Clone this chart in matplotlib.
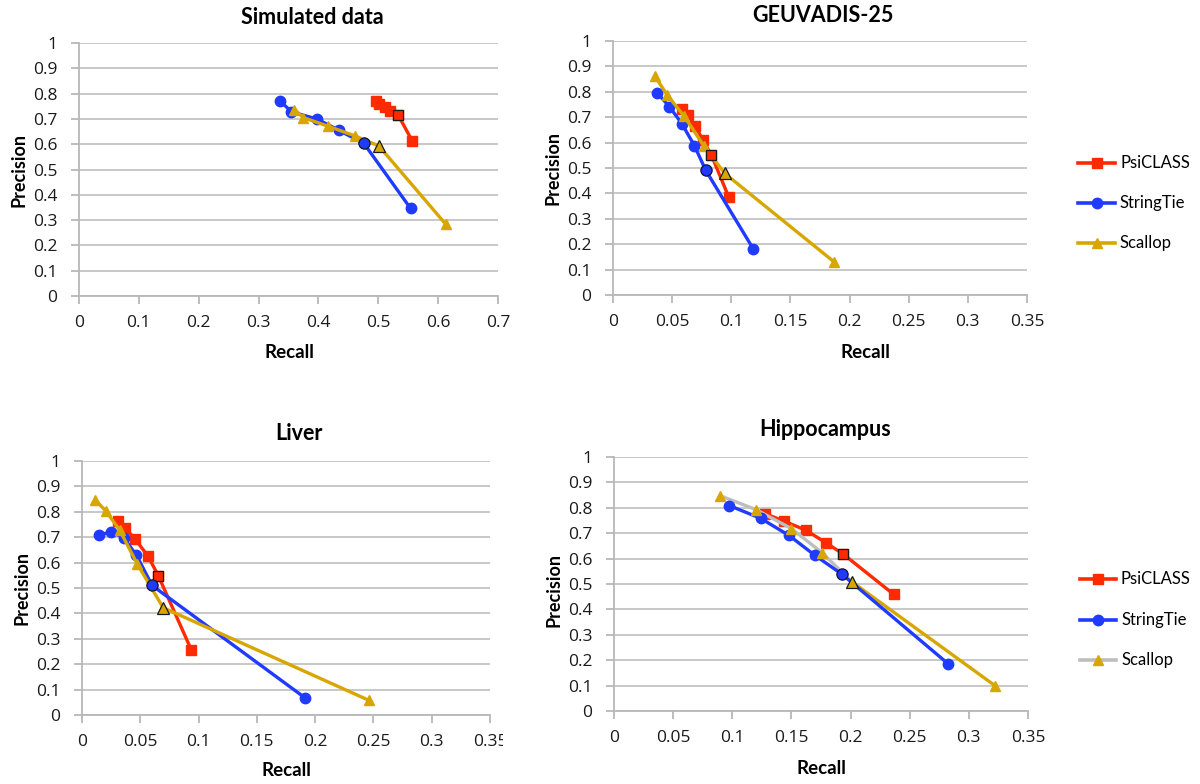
import matplotlib
matplotlib.use("Agg")
import matplotlib.pyplot as plt
from matplotlib.lines import Line2D
from matplotlib.transforms import Bbox

# ---------------- data ----------------
titles = ["Simulated data", "GEUVADIS-25", "Liver", "Hippocampus"]
series_names = ["PsiCLASS", "StringTie", "Scallop"]

# Simulated data
sim_psiclass_recall = [0.496, 0.502, 0.511, 0.519, 0.533, 0.557]
sim_psiclass_prec = [0.771, 0.758, 0.747, 0.732, 0.716, 0.612]
sim_stringtie_recall = [0.336, 0.355, 0.398, 0.434, 0.476, 0.554]
sim_stringtie_prec = [0.771, 0.728, 0.699, 0.655, 0.603, 0.346]
sim_scallop_recall = [0.360, 0.375, 0.416, 0.461, 0.501, 0.613]
sim_scallop_prec = [0.737, 0.705, 0.671, 0.633, 0.593, 0.283]

# GEUVADIS-25
geu_psiclass_recall = [0.0583, 0.0631, 0.0696, 0.0758, 0.0831, 0.0977]
geu_psiclass_prec = [0.732, 0.709, 0.666, 0.611, 0.552, 0.387]
geu_stringtie_recall = [0.0375, 0.0476, 0.0583, 0.0688, 0.0784, 0.1184]
geu_stringtie_prec = [0.795, 0.742, 0.674, 0.588, 0.491, 0.183]
geu_scallop_recall = [0.0355, 0.0457, 0.0603, 0.0767, 0.0944, 0.187]
geu_scallop_prec = [0.861, 0.788, 0.703, 0.588, 0.479, 0.130]

# Liver
liv_psiclass_recall = [0.0309, 0.0366, 0.0458, 0.0567, 0.0656, 0.0939]
liv_psiclass_prec = [0.765, 0.738, 0.691, 0.625, 0.547, 0.255]
liv_stringtie_recall = [0.0146, 0.0246, 0.0358, 0.0467, 0.0601, 0.1912]
liv_stringtie_prec = [0.707, 0.722, 0.698, 0.629, 0.510, 0.068]
liv_scallop_recall = [0.0115, 0.0203, 0.0323, 0.0475, 0.0695, 0.246]
liv_scallop_prec = [0.846, 0.804, 0.728, 0.594, 0.423, 0.058]

# Hippocampus
hip_psiclass_recall = [0.1276, 0.1436, 0.162, 0.179, 0.194, 0.2365]
hip_psiclass_prec = [0.777, 0.748, 0.712, 0.663, 0.617, 0.459]
hip_stringtie_recall = [0.0974, 0.1242, 0.148, 0.1698, 0.1926, 0.2827]
hip_stringtie_prec = [0.809, 0.758, 0.691, 0.613, 0.539, 0.185]
hip_scallop_recall = [0.090, 0.120, 0.150, 0.176, 0.201, 0.322]
hip_scallop_prec = [0.847, 0.793, 0.718, 0.623, 0.509, 0.100]

default_index = 4  # point drawn with a dark outline (default parameters)

x_max = [0.7, 0.35, 0.35, 0.35]
x_step = [0.1, 0.05, 0.05, 0.05]
x_ticklabels_a = ["0", "0.1", "0.2", "0.3", "0.4", "0.5", "0.6", "0.7"]
x_ticklabels_b = ["0", "0.05", "0.1", "0.15", "0.2", "0.25", "0.3", "0.35"]
y_ticks = [0, 0.1, 0.2, 0.3, 0.4, 0.5, 0.6, 0.7, 0.8, 0.9, 1.0]
y_ticklabels = ["0", "0.1", "0.2", "0.3", "0.4", "0.5", "0.6", "0.7", "0.8", "0.9", "1"]

panels = [
    (sim_psiclass_recall, sim_psiclass_prec, sim_stringtie_recall, sim_stringtie_prec,
     sim_scallop_recall, sim_scallop_prec),
    (geu_psiclass_recall, geu_psiclass_prec, geu_stringtie_recall, geu_stringtie_prec,
     geu_scallop_recall, geu_scallop_prec),
    (liv_psiclass_recall, liv_psiclass_prec, liv_stringtie_recall, liv_stringtie_prec,
     liv_scallop_recall, liv_scallop_prec),
    (hip_psiclass_recall, hip_psiclass_prec, hip_stringtie_recall, hip_stringtie_prec,
     hip_scallop_recall, hip_scallop_prec),
]

# ---------------- style ----------------
RED = "#FF2A00"
BLUE = "#1F3BFF"
GOLD = "#D8A600"
GRAY_LINE = "#BEBEBE"
GRID = "#C4C4C4"
AX_GRAY = "#B8B8B8"

W, H = 1200, 784
fig = plt.figure(figsize=(W / 100, H / 100), dpi=100)
fig.patch.set_facecolor("white")

TICK_FONT = "Open Sans"

# axes rectangles in pixel coordinates: left, top, right, bottom
rects_px = [
    (79, 43, 498, 296),
    (613, 41, 1027, 295),
    (82, 461, 490, 715),
    (614, 457, 1028, 711),
]
title_pos = [(312, 18), (823, 15), (299, 433), (825, 430)]
xlabel_pos = [(289, 353), (865, 353), (286, 771), (821, 768)]
ylabel_pos = [(19, 170), (553, 168), (22, 588), (554, 590)]


def px_rect(l, t, r, b):
    return [l / W, 1 - b / H, (r - l) / W, (b - t) / H]


markers = ["s", "o", "^"]
msizes = [7, 7.5, 7.5]
colors = [RED, BLUE, GOLD]

for i, (rect, data) in enumerate(zip(rects_px, panels)):
    ax = fig.add_axes(px_rect(*rect))
    ax.set_xlim(0, x_max[i])
    ax.set_ylim(0, 1)
    n = int(round(x_max[i] / x_step[i]))
    ax.set_xticks([k * x_step[i] for k in range(n + 1)])
    ax.set_xticklabels(x_ticklabels_a if i == 0 else x_ticklabels_b)
    ax.set_yticks(y_ticks)
    ax.set_yticklabels(y_ticklabels)
    for s in ["top", "right"]:
        ax.spines[s].set_visible(False)
    for s in ["left", "bottom"]:
        ax.spines[s].set_color(AX_GRAY)
        ax.spines[s].set_linewidth(1.3)
    ax.tick_params(axis="both", direction="out", length=6, width=1.3, color=AX_GRAY,
                   labelsize=12.5, labelcolor="#1a1a1a")
    ax.tick_params(axis="x", pad=8)
    ax.tick_params(axis="y", pad=9.5)
    for lab in ax.get_xticklabels() + ax.get_yticklabels():
        lab.set_fontfamily(TICK_FONT)
    ax.grid(axis="y", color=GRID, linewidth=1.3)
    ax.set_axisbelow(True)

    pr, pp, sr, sp, cr, cp = data
    xs = [pr, sr, cr]
    ys = [pp, sp, cp]
    for k in range(3):
        if i == 3 and k == 2:
            # Hippocampus Scallop: gray segment up to the default point, then gold
            ax.plot(xs[k][:default_index + 1], ys[k][:default_index + 1], color=GRAY_LINE,
                    lw=2.4, marker=None, zorder=3)
            ax.plot(xs[k][default_index:], ys[k][default_index:], color=GOLD,
                    lw=2.4, marker=None, zorder=3)
            ax.plot(xs[k], ys[k], ls="none", marker=markers[k], ms=msizes[k],
                    color=GOLD, mec=GOLD, zorder=3.1)
        else:
            ax.plot(xs[k], ys[k], color=colors[k], lw=2.4, marker=markers[k],
                    ms=msizes[k], mec=colors[k], zorder=3 + k * 0.1)
    for k in range(3):
        ax.plot([xs[k][default_index]], [ys[k][default_index]], ls="none",
                marker=markers[k], ms=msizes[k] + 0.5, color=colors[k],
                mec="#1a1a1a", mew=0.9, zorder=5)

    if i == 2:
        clip = Bbox.from_extents(0, 0, 503, H)
        for lab in ax.get_xticklabels():
            lab.set_clip_on(True)
            lab.set_clip_box(clip)

    tx, ty = title_pos[i]
    fig.text(tx / W, 1 - ty / H, titles[i], ha="center", va="center",
             fontsize=15.5, fontweight="bold", family="Lato")
    lx, ly = xlabel_pos[i]
    fig.text(lx / W, 1 - ly / H, "Recall", ha="center", va="center",
             fontsize=13.5, fontweight="bold", family="Lato")
    yx, yy = ylabel_pos[i]
    fig.text(yx / W, 1 - yy / H, "Precision", ha="center", va="center",
             rotation=90, fontsize=13, fontweight="bold", family="Lato")

# legends
legend_specs = [
    ((1078, 1115), [163, 203, 243], False),
    ((1080, 1116), [579, 620, 660], True),
]
for (x0, x1), ys_px, gray in legend_specs:
    for k, yp in enumerate(ys_px):
        lc = GRAY_LINE if (gray and k == 2) else colors[k]
        fy = 1 - yp / H
        fig.add_artist(Line2D([x0 / W, x1 / W], [fy, fy], color=lc, lw=2.6,
                              transform=fig.transFigure))
        fig.add_artist(Line2D([(x0 + x1) / 2 / W], [fy], ls="none", marker=markers[k],
                              ms=msizes[k], color=colors[k], mec=colors[k],
                              transform=fig.transFigure))
        fig.text((x1 + 5) / W, fy, series_names[k], ha="left", va="center",
                 fontsize=12, family="Lato")

fig.savefig("out.png", dpi=100, facecolor="white")
